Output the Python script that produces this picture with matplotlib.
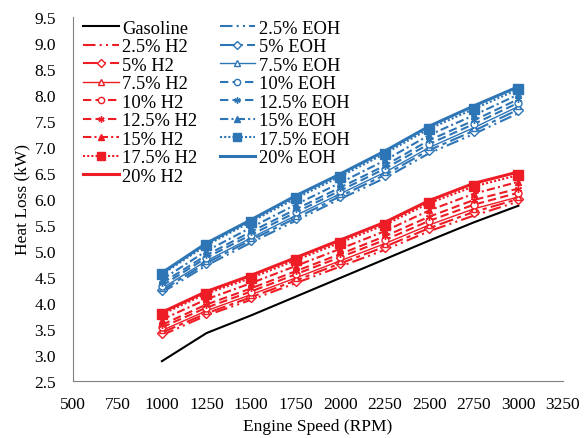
import numpy as np
import matplotlib.pyplot as plt

plt.rcParams['font.family'] = ['Liberation Serif', 'DejaVu Serif']

speed = [1000, 1250, 1500, 1750, 2000, 2250, 2500, 2750, 3000]

gasoline = [2.88, 3.42, 3.76, 4.12, 4.48, 4.84, 5.20, 5.55, 5.87]

h2_labels = ['2.5% H2', '5% H2', '7.5% H2', '10% H2', '12.5% H2', '15% H2', '17.5% H2', '20% H2']
h2_values = [
    [3.38, 3.76, 4.06, 4.38, 4.70, 5.02, 5.38, 5.68, 5.95],
    [3.43, 3.80, 4.11, 4.43, 4.76, 5.08, 5.44, 5.75, 6.00],
    [3.47, 3.85, 4.16, 4.48, 4.81, 5.14, 5.50, 5.81, 6.04],
    [3.53, 3.91, 4.22, 4.55, 4.88, 5.21, 5.58, 5.89, 6.12],
    [3.58, 3.97, 4.28, 4.61, 4.94, 5.28, 5.66, 5.98, 6.20],
    [3.68, 4.07, 4.38, 4.71, 5.04, 5.38, 5.78, 6.10, 6.33],
    [3.78, 4.18, 4.48, 4.82, 5.16, 5.50, 5.92, 6.24, 6.46],
    [3.82, 4.22, 4.53, 4.87, 5.21, 5.55, 5.97, 6.30, 6.52],
]

eoh_labels = ['2.5% EOH', '5% EOH', '7.5% EOH', '10% EOH', '12.5% EOH', '15% EOH', '17.5% EOH', '20% EOH']
eoh_values = [
    [4.20, 4.72, 5.16, 5.58, 6.00, 6.40, 6.88, 7.25, 7.65],
    [4.24, 4.77, 5.21, 5.63, 6.05, 6.46, 6.94, 7.31, 7.72],
    [4.28, 4.81, 5.25, 5.68, 6.10, 6.51, 6.99, 7.37, 7.78],
    [4.33, 4.87, 5.31, 5.74, 6.16, 6.58, 7.06, 7.44, 7.85],
    [4.38, 4.92, 5.37, 5.80, 6.22, 6.64, 7.13, 7.51, 7.92],
    [4.45, 5.00, 5.45, 5.89, 6.31, 6.74, 7.23, 7.61, 8.01],
    [4.55, 5.11, 5.56, 6.01, 6.43, 6.87, 7.35, 7.73, 8.11],
    [4.58, 5.15, 5.60, 6.06, 6.48, 6.92, 7.40, 7.79, 8.16],
]

# line style, marker, filled, linewidth for each blend level
styles = [
    ((0, (6, 2, 1, 2, 1, 2)), None, False, 1.5),
    ((0, (7, 2, 2, 2)), 'D', False, 1.5),
    ('-', '^', False, 1.0),
    ((0, (4, 2)), 'o', False, 1.5),
    ((0, (4, 2)), (6, 2, 0), True, 1.5),
    ((0, (4, 1.5, 1, 1.5)), '^', True, 1.5),
    ((0, (1, 1)), 's', True, 1.5),
    ('-', None, False, 2.2),
]

red = '#EE1C25'
blue = '#2E75B6'


def plot_group(ax, values, labels, color):
    for vals, lab, (ls, mk, filled, lw) in zip(values, labels, styles):
        ax.plot(speed, vals, color=color, linestyle=ls, linewidth=lw, marker=mk,
                markersize=6.5 if mk == 's' else 5,
                markerfacecolor=color if filled else 'white',
                markeredgecolor=color, label=lab)


def main():
    fig = plt.figure(figsize=(5.87, 4.39), dpi=100)
    ax = fig.add_axes([0.124, 0.130, 0.835, 0.829])

    ax.plot(speed, gasoline, color='black', linewidth=1.5, label='Gasoline')
    plot_group(ax, h2_values, h2_labels, red)
    plot_group(ax, eoh_values, eoh_labels, blue)

    ax.set_xlim(500, 3250)
    ax.set_ylim(2.5, 9.5)
    ax.set_xticks(np.arange(500, 3251, 250))
    ax.set_yticks(np.arange(2.5, 9.51, 0.5))
    ax.yaxis.set_major_formatter(plt.FormatStrFormatter('%.1f'))
    ax.tick_params(length=0, labelsize=12.5)
    ax.tick_params(axis='y', pad=12)
    ax.tick_params(axis='x', pad=11)
    for s in ['top', 'right']:
        ax.spines[s].set_visible(False)
    for s in ['left', 'bottom']:
        ax.spines[s].set_color('#808080')
    ax.set_xlabel('Engine Speed (RPM)', fontsize=12.5, labelpad=4)
    ax.set_ylabel('Heat Loss (kW)', fontsize=12.5, labelpad=3)

    ax.legend(ncol=2, loc='upper left', bbox_to_anchor=(0.0, 1.02), frameon=False,
              fontsize=13.3, labelspacing=0.08, handlelength=1.93, handletextpad=0.2,
              columnspacing=1.2, borderaxespad=0.3, borderpad=0.25, markerscale=0.9)

    fig.savefig('out.png', dpi=100)


if __name__ == "__main__":
    main()
